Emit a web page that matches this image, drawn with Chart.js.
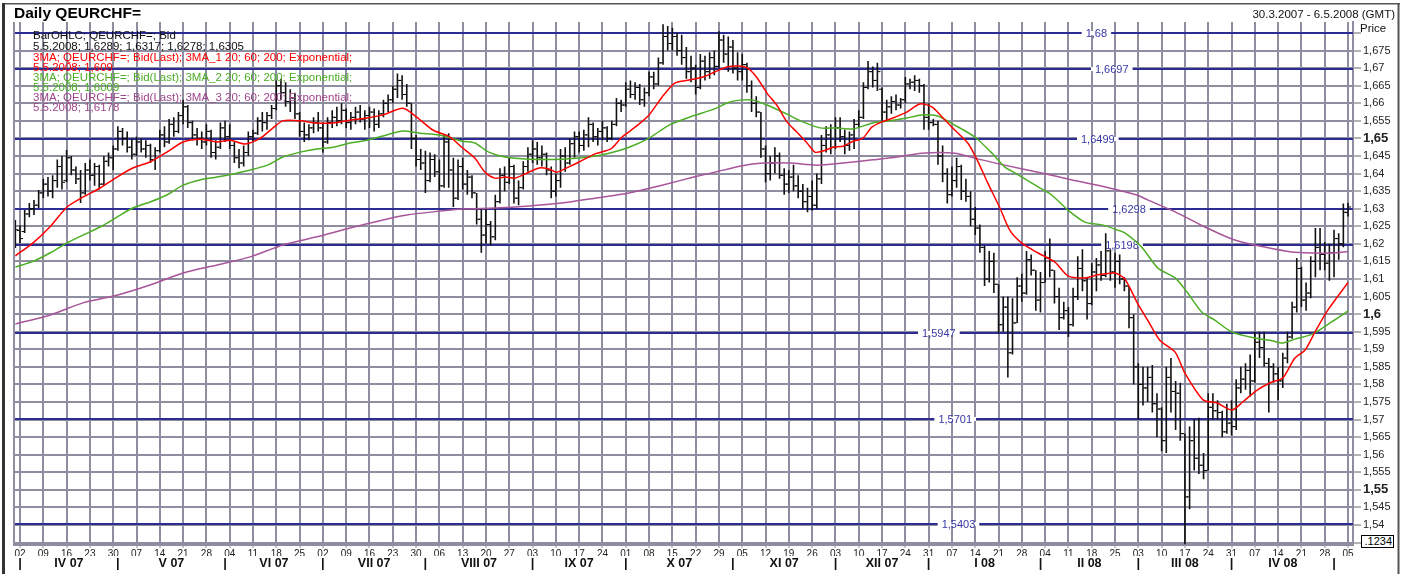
<!DOCTYPE html>
<html>
<head>
<meta charset="utf-8">
<script src="https://cdn.jsdelivr.net/npm/chart.js@4.4.1/dist/chart.umd.min.js"></script>
<style>
  body { margin: 0; background: #fff; font-family: "Liberation Sans", Arial, sans-serif; }
  #wrap { position: relative; width: 1406px; height: 574px; overflow: hidden; }
  #c { position: absolute; left: 0; top: 0; }
  .t { position: absolute; white-space: nowrap; line-height: 1; }
  .lg { font-size: 11.5px; left: 33px; }
</style>
</head>
<body>
<div id="wrap">
  <canvas id="c" width="1406" height="574"></canvas>
  <div class="t" style="left:14px;top:5px;font-size:15.5px;font-weight:bold;color:#000">Daily QEURCHF=</div>
  <div class="t" style="right:11px;top:9px;font-size:11.5px;color:#111">30.3.2007 - 6.5.2008 (GMT)</div>
  <div class="t" style="left:1360px;top:23px;font-size:11.5px;color:#111">Price</div>
  <div class="t" style="left:1361px;top:535px;width:30px;height:11px;border:1px solid #000;font-size:11px;text-align:right;padding-right:1px;background:#fff">.1234</div>
  <div class="t lg" style="top:30px;color:#111">BarOHLC; QEURCHF=; Bid</div>
  <div class="t lg" style="top:41px;color:#111">5.5.2008; 1,6289; 1,6317; 1,6278; 1,6305</div>
  <div class="t lg" style="top:52px;color:#f00">3MA; QEURCHF=; Bid(Last); 3MA_1 20; 60; 200; Exponential;</div>
  <div class="t lg" style="top:62px;color:#f00">5.5.2008; 1,609</div>
  <div class="t lg" style="top:72px;color:#4cae24">3MA; QEURCHF=; Bid(Last); 3MA_2 20; 60; 200; Exponential;</div>
  <div class="t lg" style="top:82px;color:#4cae24">5.5.2008; 1,6009</div>
  <div class="t lg" style="top:92px;color:#a0468c">3MA; QEURCHF=; Bid(Last); 3MA_3 20; 60; 200; Exponential;</div>
  <div class="t lg" style="top:102px;color:#a0468c">5.5.2008; 1,6178</div>
</div>
<script>
// daily bars, index 0 = Fri 30.3.2007, index 1 = Mon 2.4.2007 ... index 286 = Mon 5.5.2008
const highs = [
  1.6268,1.6253,1.6296,1.6316,1.6325,1.6353,1.6385,1.6390,1.6395,1.6440,
  1.6450,1.6467,1.6450,1.6420,1.6410,1.6430,1.6440,1.6430,1.6425,1.6450,
  1.6460,1.6480,1.6535,1.6530,1.6520,1.6500,1.6505,1.6500,1.6495,1.6485,
  1.6475,1.6525,1.6535,1.6555,1.6560,1.6575,1.6610,1.6595,1.6550,1.6530,
  1.6520,1.6540,1.6525,1.6495,1.6545,1.6550,1.6540,1.6490,1.6470,1.6480,
  1.6520,1.6525,1.6560,1.6575,1.6575,1.6595,1.6665,1.6670,1.6660,1.6640,
  1.6630,1.6575,1.6545,1.6540,1.6560,1.6575,1.6545,1.6560,1.6580,1.6590,
  1.6600,1.6585,1.6575,1.6590,1.6595,1.6580,1.6590,1.6585,1.6580,1.6610,
  1.6625,1.6650,1.6685,1.6680,1.6655,1.6600,1.6510,1.6470,1.6465,1.6460,
  1.6455,1.6440,1.6510,1.6515,1.6445,1.6440,1.6445,1.6410,1.6395,1.6345,
  1.6300,1.6300,1.6265,1.6340,1.6415,1.6420,1.6445,1.6425,1.6380,1.6435,
  1.6475,1.6495,1.6490,1.6480,1.6460,1.6420,1.6400,1.6470,1.6475,1.6500,
  1.6520,1.6520,1.6525,1.6560,1.6545,1.6530,1.6550,1.6535,1.6550,1.6615,
  1.6610,1.6660,1.6665,1.6660,1.6655,1.6645,1.6690,1.6690,1.6730,1.6825,
  1.6820,1.6815,1.6800,1.6795,1.6760,1.6735,1.6710,1.6740,1.6735,1.6745,
  1.6750,1.6805,1.6795,1.6790,1.6780,1.6745,1.6740,1.6715,1.6665,1.6620,
  1.6575,1.6480,1.6450,1.6475,1.6460,1.6415,1.6410,1.6425,1.6395,1.6370,
  1.6360,1.6380,1.6400,1.6510,1.6535,1.6540,1.6560,1.6560,1.6525,1.6520,
  1.6555,1.6580,1.6660,1.6720,1.6705,1.6715,1.6645,1.6610,1.6620,1.6625,
  1.6615,1.6675,1.6670,1.6680,1.6670,1.6655,1.6600,1.6555,1.6550,1.6480,
  1.6415,1.6420,1.6445,1.6425,1.6385,1.6350,1.6305,1.6255,1.6195,1.6180,
  1.6175,1.6085,1.6050,1.6050,1.6045,1.6105,1.6115,1.6180,1.6170,1.6125,
  1.6120,1.6180,1.6215,1.6125,1.6075,1.6035,1.6020,1.6075,1.6165,1.6185,
  1.6105,1.6145,1.6160,1.6180,1.6230,1.6185,1.6175,1.6170,1.6105,1.6080,
  1.6000,1.5860,1.5850,1.5850,1.5855,1.5775,1.5735,1.5850,1.5875,1.5810,
  1.5805,1.5660,1.5680,1.5700,1.5705,1.5605,1.5775,1.5775,1.5755,1.5725,
  1.5745,1.5755,1.5815,1.5850,1.5860,1.5885,1.5950,1.5950,1.5950,1.5875,
  1.5860,1.5850,1.5890,1.5950,1.6035,1.6160,1.6135,1.6090,1.6165,1.6245,
  1.6245,1.6205,1.6200,1.6240,1.6230,1.6315,1.6317
];
const lows = [
  1.6188,1.6202,1.6231,1.6276,1.6282,1.6302,1.6330,1.6335,1.6330,1.6360,
  1.6355,1.6375,1.6395,1.6370,1.6316,1.6340,1.6380,1.6365,1.6355,1.6365,
  1.6420,1.6410,1.6465,1.6480,1.6460,1.6440,1.6450,1.6460,1.6445,1.6430,
  1.6410,1.6460,1.6475,1.6485,1.6505,1.6515,1.6540,1.6530,1.6495,1.6480,
  1.6470,1.6480,1.6445,1.6440,1.6470,1.6490,1.6470,1.6430,1.6415,1.6420,
  1.6450,1.6490,1.6510,1.6520,1.6525,1.6555,1.6580,1.6610,1.6590,1.6575,
  1.6555,1.6505,1.6490,1.6495,1.6515,1.6520,1.6460,1.6485,1.6530,1.6535,
  1.6540,1.6530,1.6525,1.6540,1.6545,1.6525,1.6530,1.6520,1.6530,1.6560,
  1.6575,1.6600,1.6615,1.6610,1.6590,1.6470,1.6420,1.6410,1.6345,1.6375,
  1.6390,1.6350,1.6360,1.6360,1.6305,1.6325,1.6355,1.6340,1.6330,1.6255,
  1.6175,1.6200,1.6195,1.6210,1.6315,1.6350,1.6370,1.6315,1.6310,1.6355,
  1.6405,1.6430,1.6425,1.6420,1.6395,1.6330,1.6335,1.6360,1.6405,1.6425,
  1.6445,1.6460,1.6465,1.6475,1.6490,1.6480,1.6495,1.6490,1.6495,1.6535,
  1.6575,1.6590,1.6615,1.6610,1.6595,1.6590,1.6620,1.6640,1.6650,1.6710,
  1.6750,1.6750,1.6735,1.6710,1.6670,1.6660,1.6625,1.6640,1.6665,1.6670,
  1.6680,1.6700,1.6715,1.6690,1.6685,1.6665,1.6665,1.6630,1.6575,1.6560,
  1.6445,1.6375,1.6380,1.6400,1.6385,1.6340,1.6345,1.6350,1.6330,1.6300,
  1.6290,1.6295,1.6300,1.6370,1.6460,1.6455,1.6470,1.6490,1.6455,1.6465,
  1.6470,1.6530,1.6555,1.6640,1.6645,1.6635,1.6550,1.6550,1.6570,1.6580,
  1.6585,1.6600,1.6640,1.6635,1.6630,1.6525,1.6525,1.6535,1.6425,1.6375,
  1.6315,1.6335,1.6360,1.6325,1.6320,1.6250,1.6225,1.6175,1.6080,1.6090,
  1.6060,1.5945,1.5950,1.5820,1.5885,1.5975,1.6035,1.6055,1.6110,1.6010,
  1.6005,1.6090,1.6105,1.6030,1.5955,1.5985,1.5935,1.5965,1.6040,1.6065,
  1.5985,1.6025,1.6065,1.6095,1.6105,1.6095,1.6075,1.6085,1.6065,1.5960,
  1.5800,1.5700,1.5740,1.5750,1.5720,1.5650,1.5610,1.5605,1.5720,1.5670,
  1.5640,1.5345,1.5445,1.5555,1.5545,1.5530,1.5555,1.5700,1.5700,1.5650,
  1.5660,1.5655,1.5670,1.5775,1.5785,1.5765,1.5805,1.5875,1.5850,1.5720,
  1.5805,1.5755,1.5790,1.5860,1.5930,1.6005,1.6020,1.6010,1.6045,1.6105,
  1.6125,1.6125,1.6095,1.6105,1.6155,1.6190,1.6278
];
const opens = [
  1.6195,1.6238,1.6235,1.6285,1.6300,1.6310,1.6345,1.6370,1.6350,1.6380,
  1.6420,1.6380,1.6445,1.6410,1.6385,1.6345,1.6410,1.6395,1.6420,1.6370,
  1.6435,1.6445,1.6470,1.6520,1.6500,1.6475,1.6455,1.6490,1.6470,1.6480,
  1.6440,1.6465,1.6510,1.6490,1.6540,1.6520,1.6565,1.6590,1.6545,1.6510,
  1.6500,1.6490,1.6520,1.6460,1.6475,1.6530,1.6505,1.6480,1.6445,1.6430,
  1.6460,1.6505,1.6515,1.6550,1.6545,1.6565,1.6585,1.6650,1.6630,1.6605,
  1.6615,1.6570,1.6520,1.6510,1.6530,1.6545,1.6530,1.6490,1.6545,1.6560,
  1.6550,1.6580,1.6545,1.6560,1.6575,1.6555,1.6565,1.6575,1.6540,1.6570,
  1.6600,1.6610,1.6640,1.6665,1.6625,1.6600,1.6500,1.6440,1.6430,1.6380,
  1.6440,1.6405,1.6365,1.6490,1.6410,1.6330,1.6420,1.6370,1.6390,1.6345,
  1.6270,1.6225,1.6255,1.6220,1.6320,1.6395,1.6375,1.6420,1.6330,1.6360,
  1.6420,1.6455,1.6470,1.6445,1.6455,1.6410,1.6350,1.6380,1.6450,1.6430,
  1.6485,1.6505,1.6480,1.6510,1.6540,1.6505,1.6520,1.6530,1.6500,1.6540,
  1.6600,1.6595,1.6640,1.6625,1.6645,1.6610,1.6630,1.6675,1.6655,1.6715,
  1.6790,1.6770,1.6790,1.6750,1.6730,1.6690,1.6700,1.6645,1.6720,1.6690,
  1.6730,1.6705,1.6780,1.6740,1.6760,1.6700,1.6690,1.6710,1.6650,1.6600,
  1.6575,1.6470,1.6400,1.6430,1.6450,1.6395,1.6370,1.6390,1.6365,1.6350,
  1.6320,1.6335,1.6310,1.6385,1.6480,1.6510,1.6475,1.6530,1.6505,1.6480,
  1.6510,1.6540,1.6560,1.6645,1.6690,1.6665,1.6640,1.6575,1.6590,1.6605,
  1.6595,1.6610,1.6655,1.6660,1.6665,1.6650,1.6560,1.6545,1.6540,1.6450,
  1.6400,1.6340,1.6380,1.6420,1.6350,1.6335,1.6270,1.6245,1.6190,1.6100,
  1.6150,1.6085,1.5970,1.6020,1.5890,1.5975,1.6080,1.6060,1.6155,1.6125,
  1.6040,1.6090,1.6160,1.6125,1.6050,1.5990,1.6010,1.5970,1.6050,1.6130,
  1.6095,1.6030,1.6120,1.6140,1.6110,1.6180,1.6120,1.6150,1.6100,1.6080,
  1.5990,1.5850,1.5800,1.5790,1.5820,1.5745,1.5730,1.5640,1.5820,1.5780,
  1.5775,1.5660,1.5480,1.5640,1.5590,1.5570,1.5555,1.5735,1.5725,1.5720,
  1.5665,1.5690,1.5680,1.5790,1.5815,1.5840,1.5810,1.5920,1.5905,1.5860,
  1.5850,1.5830,1.5810,1.5875,1.5935,1.6020,1.6130,1.6040,1.6060,1.6150,
  1.6190,1.6170,1.6145,1.6175,1.6215,1.6200,1.6289
];
const closes = [
  1.6240,1.6215,1.6285,1.6300,1.6310,1.6345,1.6370,1.6350,1.6380,1.6420,
  1.6375,1.6445,1.6410,1.6385,1.6345,1.6410,1.6395,1.6420,1.6370,1.6435,
  1.6445,1.6470,1.6520,1.6500,1.6475,1.6455,1.6490,1.6470,1.6480,1.6440,
  1.6465,1.6510,1.6490,1.6540,1.6520,1.6565,1.6590,1.6545,1.6510,1.6500,
  1.6490,1.6520,1.6460,1.6475,1.6530,1.6505,1.6480,1.6445,1.6430,1.6460,
  1.6505,1.6515,1.6550,1.6545,1.6565,1.6585,1.6650,1.6630,1.6605,1.6615,
  1.6570,1.6520,1.6510,1.6530,1.6545,1.6530,1.6490,1.6545,1.6560,1.6550,
  1.6580,1.6545,1.6560,1.6575,1.6555,1.6565,1.6575,1.6540,1.6570,1.6600,
  1.6610,1.6640,1.6665,1.6625,1.6600,1.6500,1.6440,1.6430,1.6380,1.6440,
  1.6405,1.6365,1.6490,1.6410,1.6330,1.6420,1.6370,1.6390,1.6345,1.6270,
  1.6225,1.6255,1.6220,1.6320,1.6395,1.6375,1.6420,1.6330,1.6360,1.6420,
  1.6455,1.6470,1.6445,1.6455,1.6410,1.6350,1.6380,1.6450,1.6430,1.6485,
  1.6505,1.6480,1.6510,1.6540,1.6505,1.6520,1.6530,1.6500,1.6540,1.6600,
  1.6595,1.6640,1.6625,1.6645,1.6610,1.6630,1.6675,1.6655,1.6715,1.6790,
  1.6770,1.6790,1.6750,1.6730,1.6690,1.6700,1.6645,1.6720,1.6690,1.6730,
  1.6705,1.6780,1.6740,1.6760,1.6700,1.6690,1.6710,1.6650,1.6600,1.6575,
  1.6470,1.6400,1.6430,1.6450,1.6395,1.6370,1.6390,1.6365,1.6350,1.6320,
  1.6335,1.6310,1.6385,1.6480,1.6510,1.6475,1.6530,1.6505,1.6480,1.6510,
  1.6540,1.6560,1.6645,1.6690,1.6665,1.6690,1.6575,1.6590,1.6605,1.6595,
  1.6610,1.6655,1.6660,1.6665,1.6650,1.6560,1.6545,1.6540,1.6450,1.6400,
  1.6340,1.6380,1.6420,1.6350,1.6335,1.6270,1.6245,1.6190,1.6100,1.6150,
  1.6085,1.5970,1.6020,1.5890,1.5975,1.6080,1.6060,1.6155,1.6125,1.6040,
  1.6090,1.6160,1.6125,1.6050,1.5990,1.6010,1.5970,1.6050,1.6130,1.6095,
  1.6030,1.6120,1.6140,1.6110,1.6180,1.6120,1.6150,1.6100,1.6080,1.5990,
  1.5850,1.5800,1.5790,1.5820,1.5745,1.5730,1.5640,1.5820,1.5780,1.5775,
  1.5660,1.5480,1.5640,1.5590,1.5570,1.5555,1.5735,1.5725,1.5720,1.5665,
  1.5690,1.5680,1.5790,1.5815,1.5840,1.5810,1.5920,1.5905,1.5860,1.5850,
  1.5830,1.5810,1.5875,1.5935,1.6020,1.6130,1.6040,1.6060,1.6150,1.6190,
  1.6170,1.6145,1.6175,1.6215,1.6200,1.6290,1.6305
];

// moving averages (bar index, value)
const ma20At = [0,3.8,7.4,11.1,14.5,18.2,21.8,25.2,28.9,32.5,36,39.6,43.3,46.1,49.3,52.5,55.3,57.4,61.1,64.7,68.2,71.8,75.5,78.9,83.2,86.2,89.6,93.3,95.8,98.6,100.8,102.9,105.1,107.2,109.4,112.4,114.5,116.2,118.8,121,124.4,126.5,128,130.2,133,136,138.8,141.6,144.6,147.6,150.1,152.7,155.1,157.2,159.2,161.3,163.4,165.6,167.7,169.9,171.6,173.3,175.5,177.6,179.8,181.9,183.8,186,188.3,191.3,194.1,196.7,198.9,201.6,204.4,206.4,208.7,211.3,213.4,216,219.5,223.1,225.9,229.5,232.3,236,238.1,240.9,243,245.6,248.9,251,254.9,257.9,261.1,263.4,266.5,269.7,272,274.6,276.8,278.9,281.7,286];
const ma20 = [1.6166,1.6203,1.6248,1.6305,1.6333,1.6359,1.6390,1.6416,1.6433,1.6461,1.6490,1.6498,1.6490,1.6495,1.6484,1.6500,1.6530,1.6550,1.6550,1.6544,1.6544,1.6552,1.6558,1.6567,1.6586,1.6560,1.6524,1.6504,1.6475,1.6444,1.6404,1.6387,1.6390,1.6387,1.6399,1.6416,1.6413,1.6404,1.6419,1.6433,1.6456,1.6464,1.6472,1.6504,1.6532,1.6567,1.6618,1.6658,1.6666,1.6675,1.6689,1.6703,1.6706,1.6700,1.6672,1.6629,1.6595,1.6547,1.6518,1.6487,1.6461,1.6464,1.6475,1.6478,1.6492,1.6501,1.6532,1.6547,1.6558,1.6575,1.6598,1.6590,1.6561,1.6524,1.6487,1.6439,1.6373,1.6302,1.6239,1.6202,1.6174,1.6148,1.6109,1.6103,1.6112,1.6117,1.6100,1.6029,1.5983,1.5926,1.5892,1.5832,1.5756,1.5747,1.5727,1.5750,1.5784,1.5807,1.5818,1.5875,1.5898,1.5949,1.6012,1.6090];
const ma60At = [0,3.8,7.4,11.1,14.5,18.2,21.8,25.2,28.9,32.5,36,39.6,43.3,46.8,50.4,54.1,57.4,61.1,64.7,68.2,71.8,75.5,78.9,83.2,86.8,91,96,98.6,101.6,105.1,110.3,117.3,123.1,127.4,131.7,136,140.3,144.8,150.1,152.7,155.5,158.3,161.3,165.6,169,172.7,176.3,179.8,184,187.7,191.3,194.5,197.9,201.6,205.9,209.6,212.3,214.5,219.5,222.4,225.9,229.5,233.2,236.6,238.1,241.7,245.2,248.9,251.6,254.6,257.4,261.1,266,269.7,272,274.6,278.3,282.5,286];
const ma60 = [1.6134,1.6150,1.6174,1.6203,1.6225,1.6248,1.6276,1.6302,1.6319,1.6339,1.6367,1.6382,1.6390,1.6399,1.6410,1.6424,1.6447,1.6461,1.6470,1.6475,1.6487,1.6495,1.6507,1.6521,1.6515,1.6510,1.6492,1.6487,1.6461,1.6447,1.6441,1.6441,1.6447,1.6458,1.6475,1.6501,1.6538,1.6561,1.6584,1.6601,1.6609,1.6609,1.6595,1.6569,1.6547,1.6530,1.6530,1.6527,1.6544,1.6550,1.6558,1.6567,1.6564,1.6538,1.6504,1.6458,1.6419,1.6402,1.6362,1.6339,1.6296,1.6262,1.6254,1.6239,1.6231,1.6191,1.6131,1.6103,1.6060,1.6006,1.5983,1.5949,1.5932,1.5924,1.5918,1.5929,1.5943,1.5978,1.6009];
const ma200At = [0,7.4,14.5,21.8,28.9,36,43.3,50.4,57.4,64.7,71.8,78.9,84,89.6,96,102.9,110.3,117.3,124.4,131.7,138.8,145.6,150.1,155.5,160.4,166.2,172,177.6,184,189.2,194.5,201.6,205.9,212.3,219.5,226.8,233.9,240.7,243,248.9,255.3,261.7,268.1,273.9,278.3,282.5,286];
const ma200 = [1.5972,1.5997,1.6032,1.6054,1.6083,1.6117,1.6140,1.6163,1.6197,1.6220,1.6245,1.6268,1.6282,1.6291,1.6299,1.6302,1.6308,1.6316,1.6330,1.6345,1.6367,1.6390,1.6404,1.6421,1.6430,1.6430,1.6424,1.6430,1.6439,1.6447,1.6458,1.6458,1.6444,1.6424,1.6404,1.6382,1.6362,1.6339,1.6325,1.6291,1.6248,1.6211,1.6191,1.6177,1.6174,1.6174,1.6178];

// horizontal levels drawn across the chart
const levelValues = [1.68, 1.6697, 1.6499, 1.6298, 1.6198, 1.5947, 1.5701, 1.5403];
const levelLabelAt = [232, 235.3, 232.3, 239, 237.5, 198.2, 201.7, 202.4];

// axis labels
const weekLabels = ['02','09','16','23','30','07','14','21','28','04','11','18','25','02','09','16','23','30',
  '06','13','20','27','03','10','17','24','01','08','15','22','29','05','12','19','26','03','10','17','24','31',
  '07','14','21','28','04','11','18','25','03','10','17','24','31','07','14','21','28','05'];
const monthNames = ['IV 07','V 07','VI 07','VII 07','VIII 07','IX 07','X 07','XI 07','XII 07','I 08','II 08','III 08','IV 08'];
const monthSepAt = [1, 22, 45, 66, 88, 111, 131, 154, 176, 196, 220, 241, 261, 283];
const yTickValues = [1.535,1.54,1.545,1.55,1.555,1.56,1.565,1.57,1.575,1.58,1.585,1.59,1.595,1.6,1.605,
  1.61,1.615,1.62,1.625,1.63,1.635,1.64,1.645,1.65,1.655,1.66,1.665,1.67,1.675,1.68];
const yTickLabels = ['','1,54','1,545','1,55','1,555','1,56','1,565','1,57','1,575','1,58','1,585','1,59','1,595','1,6','1,605',
  '1,61','1,615','1,62','1,625','1,63','1,635','1,64','1,645','1,65','1,655','1,66','1,665','1,67','1,675',''];
const boldTicks = [1.55, 1.6, 1.65];

const FONT = '"Liberation Sans", Arial, sans-serif';
const GRID = '#8e8ea0';
const X_MIN = -0.29, X_MAX = 287.07;

Chart.defaults.font.family = FONT;

const hlData = [];
highs.forEach((h, i) => {
  hlData.push({ x: i, y: lows[i] }, { x: i, y: h }, { x: i, y: null });
});

const monthTicks = [];
monthSepAt.forEach(v => monthTicks.push({ value: v, label: '|' }));
monthNames.forEach((n, k) => monthTicks.push({ value: (monthSepAt[k] + monthSepAt[k + 1]) / 2, label: n }));
monthTicks.sort((a, b) => a.value - b.value);

const last = highs.length - 1;

const levelsPlugin = {
  id: 'levels',
  beforeDatasetsDraw(chart) {
    const { ctx, chartArea: a, scales: { x, y } } = chart;
    ctx.save();
    ctx.font = '11px ' + FONT;
    ctx.textAlign = 'center';
    ctx.textBaseline = 'middle';
    levelValues.forEach((v, k) => {
      const py = Math.round(y.getPixelForValue(v));
      ctx.strokeStyle = '#2c2c92';
      ctx.lineWidth = 2;
      ctx.beginPath();
      ctx.moveTo(a.left, py);
      ctx.lineTo(a.right, py);
      ctx.stroke();
      const txt = String(v).replace('.', ',');
      const w = ctx.measureText(txt).width;
      const px = x.getPixelForValue(levelLabelAt[k]);
      ctx.fillStyle = '#fff';
      ctx.fillRect(px - w / 2 - 4, py - 2, w + 8, 4);
      ctx.fillStyle = '#3636a6';
      ctx.fillText(txt, px, py + 0.5);
    });
    ctx.restore();
  },
  afterDraw(chart) {
    const { ctx, chartArea: a } = chart;
    ctx.save();
    ctx.fillStyle = GRID;
    ctx.fillRect(a.left - 1, a.top, 2, a.bottom - a.top);
    ctx.fillStyle = '#555';
    ctx.fillRect(2, 3, 1398, 1.5);
    ctx.fillRect(1397.5, 3, 2, 571);
    ctx.fillStyle = '#333';
    ctx.fillRect(2, 3, 3, 571);
    ctx.restore();
  }
};

new Chart(document.getElementById('c'), {
  type: 'line',
  data: {
    datasets: [
      {
        label: 'markers', type: 'scatter', clip: false,
        data: [
          { x: 288.36, y: closes[last] },
          { x: 288.36, y: ma200[ma200.length - 1] },
          { x: 288.36, y: ma20[ma20.length - 1] },
          { x: 288.36, y: ma60[ma60.length - 1] }
        ],
        pointStyle: 'rectRot', pointRadius: 4.5, borderWidth: 0,
        backgroundColor: ['#000', '#a0468c', '#f00', '#4cae24']
      },
      {
        label: 'MA20', data: ma20At.map((x, k) => ({ x, y: ma20[k] })),
        borderColor: '#ff0000', borderWidth: 1.5, pointRadius: 0, tension: 0.25
      },
      {
        label: 'MA60', data: ma60At.map((x, k) => ({ x, y: ma60[k] })),
        borderColor: '#4cae24', borderWidth: 1.5, pointRadius: 0, tension: 0.25
      },
      {
        label: 'MA200', data: ma200At.map((x, k) => ({ x, y: ma200[k] })),
        borderColor: '#a8559a', borderWidth: 1.5, pointRadius: 0, tension: 0.25
      },
      {
        label: 'open', type: 'scatter', data: opens.map((v, i) => ({ x: i - 0.4, y: v })),
        pointStyle: 'line', pointRadius: 1.2, borderColor: '#000', borderWidth: 1
      },
      {
        label: 'close', type: 'scatter', data: closes.map((v, i) => ({ x: i + 0.4, y: v })),
        pointStyle: 'line', pointRadius: 1.2, borderColor: '#000', borderWidth: 1
      },
      {
        label: 'HL', data: hlData, borderColor: '#111', borderWidth: 1.6,
        pointRadius: 0, spanGaps: false, borderCapStyle: 'butt'
      }
    ]
  },
  options: {
    responsive: false,
    animation: false,
    events: [],
    layout: { padding: { left: 14, top: 22, right: 0, bottom: 3 } },
    plugins: { legend: { display: false }, tooltip: { enabled: false } },
    scales: {
      x: {
        type: 'linear', position: 'bottom', weight: 0, min: X_MIN, max: X_MAX,
        afterBuildTicks: s => { s.ticks = weekLabels.map((_, k) => ({ value: 1 + 5 * k })); },
        afterFit: s => { s.height = 11; },
        grid: { color: GRID, lineWidth: 2, tickLength: 3, tickColor: GRID, tickWidth: 1 },
        border: { display: true, color: GRID, width: 2 },
        ticks: {
          autoSkip: false, maxRotation: 0, padding: 0, color: '#222',
          font: { size: 10, family: FONT },
          callback: (v, i) => weekLabels[i]
        }
      },
      xm: {
        type: 'linear', position: 'bottom', weight: 1, min: X_MIN, max: X_MAX,
        afterBuildTicks: s => { s.ticks = monthTicks.map(t => ({ value: t.value })); },
        afterFit: s => { s.height = 15; },
        grid: { display: false, drawTicks: false },
        border: { display: false },
        ticks: {
          autoSkip: false, maxRotation: 0, padding: 0, color: '#111',
          font: ctx => ({ size: monthTicks[ctx.index] && monthTicks[ctx.index].label === '|' ? 13 : 12.5, weight: 'bold', family: FONT }),
          callback: (v, i) => monthTicks[i].label
        }
      },
      y: {
        type: 'linear', position: 'right', min: 1.53431, max: 1.68313,
        afterBuildTicks: s => { s.ticks = yTickValues.map(v => ({ value: v })); },
        afterFit: s => { s.width = 53; },
        grid: { color: GRID, lineWidth: 2, tickLength: 8, tickColor: '#666', tickWidth: 1 },
        border: { display: true, color: GRID, width: 2 },
        ticks: {
          padding: 2, color: '#222', autoSkip: false,
          font: ctx => boldTicks.some(b => ctx.tick && Math.abs(b - ctx.tick.value) < 1e-6)
            ? { size: 13, weight: 'bold', family: FONT }
            : { size: 11, family: FONT },
          callback: (v, i) => yTickLabels[i]
        }
      }
    }
  },
  plugins: [levelsPlugin]
});
</script>
</body>
</html>
